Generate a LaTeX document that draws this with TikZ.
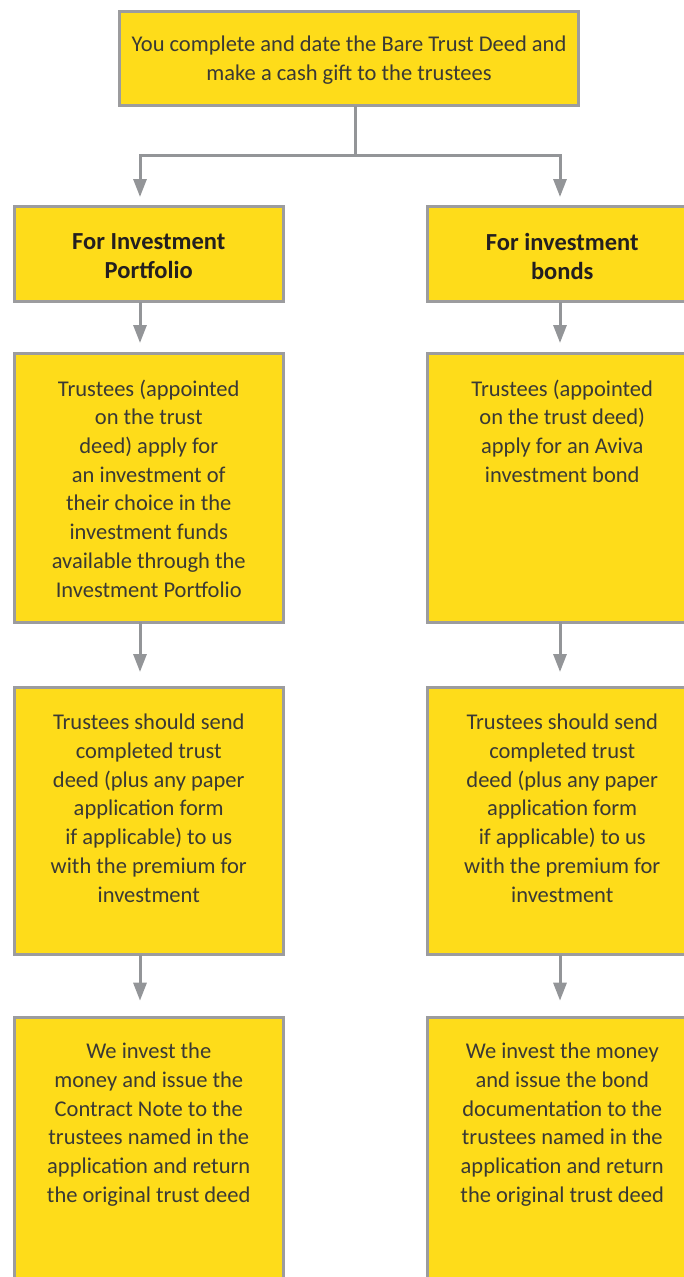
\documentclass[tikz,border=0pt]{standalone}
\usepackage{fontspec}
\setmainfont{Carlito}
\usepackage{xcolor}
\usepackage{tikz}
\usetikzlibrary{arrows.meta,positioning}
\definecolor{amarillo}{HTML}{FEDC1A}
\definecolor{marco}{HTML}{9C9C9E}
\definecolor{gris}{HTML}{939598}
\definecolor{tinta}{HTML}{3A3935}
\definecolor{tinta2}{HTML}{231F20}

\begin{document}
\begin{tikzpicture}[x=1pt,y=-1pt,
  caja/.style={draw=marco,line width=3pt,fill=amarillo,inner sep=0pt,outer sep=0pt,anchor=north west,minimum width=268.5pt},
  texto/.style={font=\fontsize{22.5}{28.7}\selectfont,text=tinta,align=center,inner sep=0pt,anchor=north,execute at begin node=\strut},
  titulo/.style={texto,font=\fontsize{24.5}{28.7}\selectfont\bfseries,text=tinta2},
  linea/.style={draw=gris,line width=3pt},
  flecha/.style={linea,-{Triangle[width=13pt,length=18pt]}}]
\useasboundingbox (0,0) rectangle (684,1277);
\clip (0,0) rectangle (684,1277);
% boxes
\node[caja,minimum width=459pt,minimum height=94pt] (deed) at (119.5,11.5) {};
\node[caja,minimum height=95pt] (ipHead) at (14.5,206.5) {};
\node[caja,minimum height=268.5pt] (ipApply) at (14.5,353.5) {};
\node[caja,minimum height=267pt] (ipSend) at (14.5,687.5) {};
\node[caja,minimum height=300pt] (ipIssue) at (14.5,1017) {};
\node[caja,minimum width=269.5pt,minimum height=95pt] (boHead) at (427.5,206.5) {};
\node[caja,minimum width=269.5pt,minimum height=268.5pt] (boApply) at (427.5,353.5) {};
\node[caja,minimum width=269.5pt,minimum height=267pt] (boSend) at (427.5,687.5) {};
\node[caja,minimum width=269.5pt,minimum height=300pt] (boIssue) at (427.5,1017) {};
% texts
\node[texto] (deedT) at ([yshift=-24.5pt]deed.north) {You complete and date the Bare Trust Deed and\\make a cash gift to the trustees};
\node[titulo] (ipHeadT) at ([yshift=-27pt]ipHead.north) {For Investment\\Portfolio};
\node[titulo] (boHeadT) at ([yshift=-27pt]boHead.north) {For investment\\bonds};
\node[texto] (ipApplyT) at ([yshift=-26pt]ipApply.north) {Trustees (appointed\\on the trust\\deed) apply for\\an investment of\\their choice in the\\investment funds\\available through the\\Investment Portfolio};
\node[texto] (boApplyT) at ([yshift=-26pt]boApply.north) {Trustees (appointed\\on the trust deed)\\apply for an Aviva\\investment bond};
\node[texto] (ipSendT) at ([yshift=-26.5pt]ipSend.north) {Trustees should send\\completed trust\\deed (plus any paper\\application form\\if applicable) to us\\with the premium for\\investment};
\node[texto] (boSendT) at ([yshift=-26.5pt]boSend.north) {Trustees should send\\completed trust\\deed (plus any paper\\application form\\if applicable) to us\\with the premium for\\investment};
\node[texto] (ipIssueT) at ([yshift=-26pt]ipIssue.north) {We invest the\\money and issue the\\Contract Note to the\\trustees named in the\\application and return\\the original trust deed};
\node[texto] (boIssueT) at ([yshift=-26pt]boIssue.north) {We invest the money\\and issue the bond\\documentation to the\\trustees named in the\\application and return\\the original trust deed};
% connectors
\path ([xshift=6pt]deed.south) ++(0,49.5) coordinate (reparto);
\draw[linea] ([xshift=6pt]deed.south) -- (reparto);
\draw[flecha,shorten >=9.5pt] (reparto) -| ([xshift=-8.75pt]ipHead.north);
\draw[flecha,shorten >=9.5pt] (reparto) -| ([xshift=-2.25pt]boHead.north);
\foreach \col/\dx in {ip/-8.75,bo/-2.25}{
  \foreach \a/\b/\s in {Head/Apply/10.5,Apply/Send/15.5,Send/Issue/16.3}
    \draw[flecha,shorten >=\s pt] ([xshift=\dx pt]\col\a.south) -- ([xshift=\dx pt]\col\b.north);
}
\end{tikzpicture}
\end{document}
